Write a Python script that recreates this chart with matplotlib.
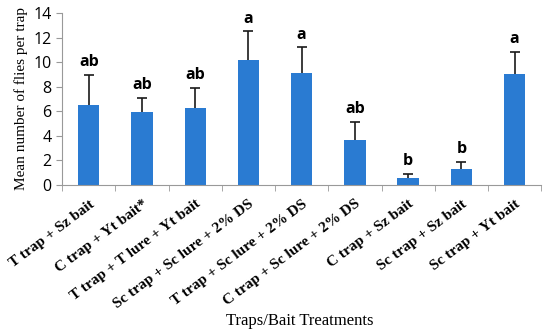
import matplotlib
matplotlib.use("Agg")
import matplotlib.pyplot as plt
import numpy as np

categories = ["T trap + Sz bait", "C trap + Yt bait*", "T trap + T lure + Yt bait",
              "Sc trap + Sc lure + 2% DS", "T trap + Sc lure + 2% DS",
              "C trap + Sc lure + 2% DS", "C trap + Sz bait", "Sc trap + Sz bait",
              "Sc trap + Yt bait"]
means = [6.5, 5.9, 6.28, 10.2, 9.15, 3.7, 0.55, 1.33, 9.0]
errors = [2.45, 1.2, 1.65, 2.3, 2.05, 1.45, 0.37, 0.57, 1.8]
letters = ["ab", "ab", "ab", "a", "a", "ab", "b", "b", "a"]

fig = plt.figure(figsize=(5.5, 3.35), dpi=100)
ax = fig.add_axes([0.113, 0.448, 0.871, 0.513])
x = np.arange(len(categories))
ax.bar(x, means, width=0.4, color="#2A7BD2", zorder=2)
eb = ax.errorbar(x, means, yerr=[np.zeros(len(means)), errors], fmt="none",
                 ecolor="#1a1a1a", elinewidth=1.2, capsize=3.5, capthick=1.2, zorder=3)
caps = eb[1]
if len(caps) >= 2:
    caps[0].set_visible(False)
for xi, m, e, l in zip(x, means, errors, letters):
    ax.text(xi, m + e + 0.4, l, ha="center", va="bottom", fontsize=11.5,
            fontweight="bold", family="Open Sans")

ax.set_xlim(-0.5, len(categories) - 0.5)
ax.set_ylim(0, 14)
ax.set_yticks(np.arange(0, 15, 2))
ax.set_xticks(x)
ax.set_xticklabels(categories, rotation=37, ha="right", rotation_mode="anchor",
                   family="Liberation Serif", fontweight="bold", fontsize=11)
ax.tick_params(axis="x", length=0, pad=9)
ax.set_xticks(np.arange(-0.5, len(categories), 1), minor=True)
ax.tick_params(axis="x", which="minor", length=4, color="#999999")
ax.tick_params(axis="y", length=4, color="#999999", labelsize=11.5)
for lab in ax.get_yticklabels():
    lab.set_family("Open Sans")
for s in ["top", "right"]:
    ax.spines[s].set_visible(False)
for s in ["left", "bottom"]:
    ax.spines[s].set_color("#999999")
ax.set_ylabel("Mean number of flies per trap", family="Liberation Serif", fontsize=11)
fig.text(0.545, 0.03, "Traps/Bait Treatments", ha="center", family="Liberation Serif",
         fontsize=12)
fig.savefig("out.png", dpi=100)
